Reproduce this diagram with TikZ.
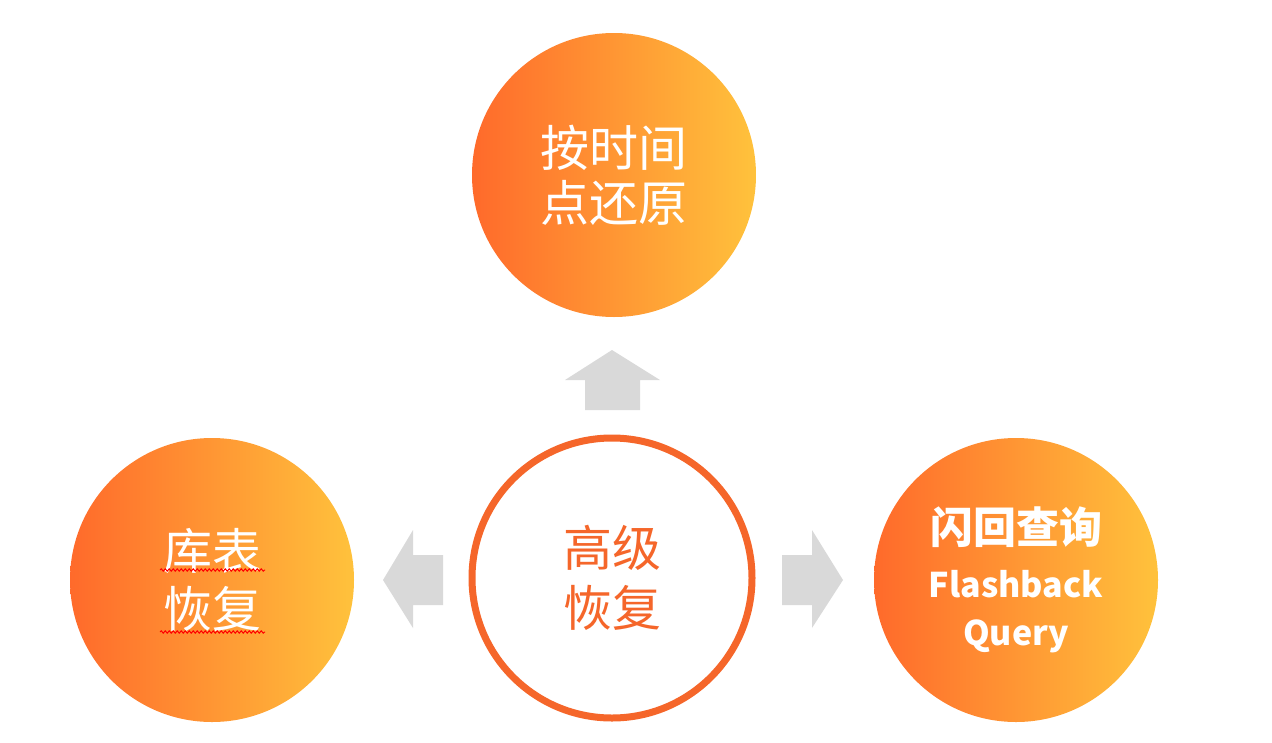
\documentclass[tikz,border=0pt]{standalone}
\usepackage{fontspec}
\setmainfont{Noto Sans CJK SC}
\usetikzlibrary{decorations.pathmorphing}
\definecolor{og}{HTML}{FF6A2B}
\definecolor{yl}{HTML}{FFC23C}
\definecolor{ring}{HTML}{F5662A}
\definecolor{gr}{HTML}{D9D9D9}
\begin{document}
\begin{tikzpicture}[x=1pt,y=-1pt,
 ball/.style={circle,minimum size=284pt,inner sep=0pt,left color=og,right color=yl,draw=none,text=white,align=center},
 arr/.style={fill=gr,draw=none}]
\useasboundingbox (0,0) rectangle (1272,742);
\node[ball,font=\fontsize{49}{55}\selectfont] (top) at (614,175) {按时间\\点还原};
\node[ball,font=\fontsize{49}{58}\selectfont] (left) at (212,580) {库表\\恢复};
\node[ball,font=\fontsize{34}{48}\selectfont] (right) at (1016,580) {{\fontsize{43}{48}\selectfont\bfseries 闪回查询}\\[6pt]\bfseries Flashback\\\bfseries Query};
\node[circle,minimum size=280pt,draw=ring,line width=7pt,fill=white,text=ring,align=center,font=\fontsize{49}{60}\selectfont] (center) at (612,578) {高级\\恢复};
\fill[arr] (585,410) -- (585,380) -- (565,380) -- (612,350) -- (660,380) -- (640,380) -- (640,410) -- cycle;
\fill[arr] (443,555) -- (413,555) -- (413,530) -- (383,580) -- (413,628) -- (413,605) -- (443,605) -- cycle;
\fill[arr] (782,555) -- (812,555) -- (812,530) -- (843,580) -- (812,628) -- (812,605) -- (782,605) -- cycle;
\draw[red,line width=1pt,decorate,decoration={snake,amplitude=1.2pt,segment length=4pt}] (160,570) -- (265,570);
\draw[red,line width=1pt,decorate,decoration={snake,amplitude=1.2pt,segment length=4pt}] (160,632) -- (265,632);
\end{tikzpicture}
\end{document}
